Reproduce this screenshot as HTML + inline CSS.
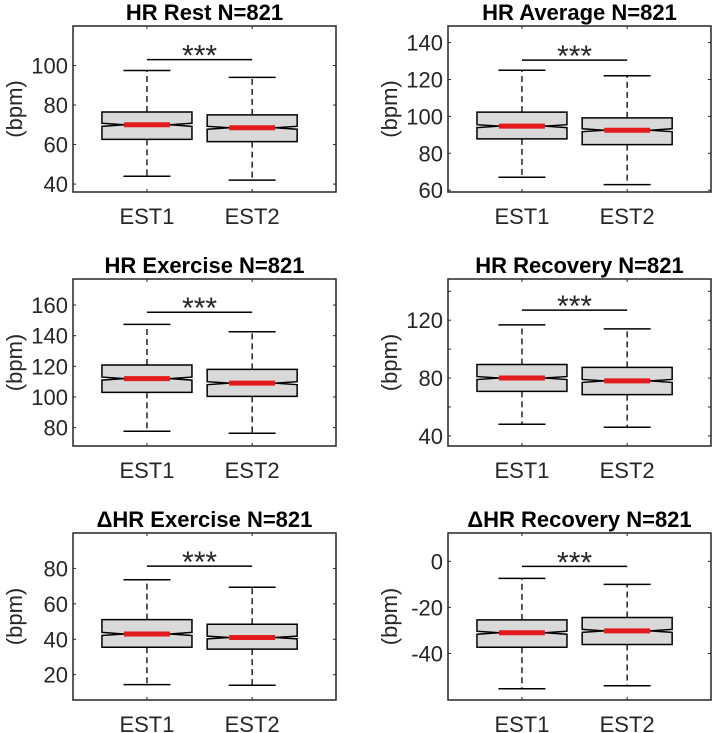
<!DOCTYPE html>
<html><head><meta charset="utf-8"><style>
html,body{margin:0;padding:0;background:#fff;}
svg{display:block;font-family:"Liberation Sans",Arial,sans-serif;}
</style></head><body>
<svg id="fig" width="715" height="733" viewBox="0 0 715 733" xmlns="http://www.w3.org/2000/svg"></svg>
<script>
const titles=["HR Rest N=821","HR Average N=821","HR Exercise N=821","HR Recovery N=821","\u0394HR Exercise N=821","\u0394HR Recovery N=821"];
const categories=["EST1","EST2"];
const yMin=[36,59,68,33,5.7,-60.2];
const yMax=[120,149,177,148.5,100,12.3];
const yTicks=[[40,60,80,100],[60,80,100,120,140],[80,100,120,140,160],[40,60,80,100,120,140],[20,40,60,80],[-40,-20,0]];
const yTickLabels=[["40","60","80","100"],["60","80","100","120","140"],["80","100","120","140","160"],["40","","80","","120",""],["20","40","60","80"],["-40","-20","0"]];
const whiskerLow=[[44,42],[67,63],[77.6,76.3],[48,46],[14.4,14],[-55.3,-54]];
const q1=[[62.6,61.5],[87.8,84.7],[103,100.4],[70.8,68.5],[35.5,34.4],[-37.3,-36.1]];
const medians=[[70,68.5],[94.7,92.5],[112,109],[80,78],[43,41],[-31,-30.2]];
const q3=[[76.5,75],[102.3,99.2],[120.9,118],[89.4,87.4],[51.1,48.5],[-25.4,-24.4]];
const whiskerHigh=[[97.5,94],[125,122],[147.4,142.6],[116.8,114],[73.6,69.4],[-7.4,-10]];
const sigLine=[103,130.5,155.3,127,81.3,-2.2];

const svg=document.getElementById('fig');
const NS="http://www.w3.org/2000/svg";
function mk(tag,attrs,parent){const e=document.createElementNS(NS,tag);for(const k in attrs)e.setAttribute(k,attrs[k]);(parent||svg).appendChild(e);return e;}
const colX=[73,448], rowY=[[26,192],[279,446],[533,700]];
const AW=263;
for(let p=0;p<6;p++){
  const col=p%2,row=Math.floor(p/2);
  const L=colX[col],R=L+AW,T=rowY[row][0],B=rowY[row][1];
  const g=mk('g',{});
  
  
  const y=v=>B-(v-yMin[p])/(yMax[p]-yMin[p])*(B-T);
  const x=i=>L+(i+0.703)*105.2;
  const t=mk('text',{x:(L+R)/2,y:T-6,'text-anchor':'middle','font-size':'22','font-weight':'bold',fill:'#000'},g);
  t.textContent=titles[p];
  
  
  const yl=mk('text',{x:0,y:0,'text-anchor':'middle','font-size':'22',fill:'#262626',transform:`translate(${L-51},${(T+B)/2}) rotate(-90)`},g);
  yl.textContent='(bpm)';
  
  
  yTicks[p].forEach((v,k)=>{
    const yy=y(v);
    mk('line',{x1:L,x2:L+3,y1:yy,y2:yy,stroke:'#262626','stroke-width':1},g);
    mk('line',{x1:R,x2:R-3,y1:yy,y2:yy,stroke:'#262626','stroke-width':1},g);
    if(yTickLabels[p][k]){
      const tl=mk('text',{x:L-5,y:yy+8,'text-anchor':'end','font-size':'22',fill:'#262626'},g);
      tl.textContent=yTickLabels[p][k];
      
      
    }
  });
  categories.forEach((c,i)=>{
    const cx=x(i);
    mk('line',{x1:cx,x2:cx,y1:B,y2:B-3,stroke:'#262626'},g);
    mk('line',{x1:cx,x2:cx,y1:T,y2:T+3,stroke:'#262626'},g);
    const xl=mk('text',{x:cx,y:B+32,'text-anchor':'middle','font-size':'22',fill:'#262626'},g);
    xl.textContent=c;
    
    
    const hw=45,cap=23.5,nw=22;
    const med=medians[p][i],iqr=q3[p][i]-q1[p][i];
    const nh=1.57*iqr/Math.sqrt(821);
    const bl=cx-hw,br=cx+hw;
    const wh=mk('line',{x1:cx,x2:cx,y1:y(q3[p][i]),y2:y(whiskerHigh[p][i]),stroke:'#000','stroke-width':1.3,'stroke-dasharray':'6,4'},g);
    
    
    const wl=mk('line',{x1:cx,x2:cx,y1:y(q1[p][i]),y2:y(whiskerLow[p][i]),stroke:'#000','stroke-width':1.3,'stroke-dasharray':'6,4'},g);
    
    
    mk('line',{x1:cx-cap,x2:cx+cap,y1:y(whiskerHigh[p][i]),y2:y(whiskerHigh[p][i]),stroke:'#000','stroke-width':1.5},g);
    mk('line',{x1:cx-cap,x2:cx+cap,y1:y(whiskerLow[p][i]),y2:y(whiskerLow[p][i]),stroke:'#000','stroke-width':1.5},g);
    const pts=[[bl,y(q1[p][i])],[bl,y(med-nh)],[bl+nw,y(med)],[bl,y(med+nh)],[bl,y(q3[p][i])],[br,y(q3[p][i])],[br,y(med+nh)],[br-nw,y(med)],[br,y(med-nh)],[br,y(q1[p][i])]];
    const box=mk('polygon',{points:pts.map(q=>q.join(',')).join(' '),fill:'#d9d9d9',stroke:'#000','stroke-width':1.5},g);
    
    
    const ml=mk('line',{x1:bl+nw,x2:br-nw,y1:y(med),y2:y(med),stroke:'#e31a1c','stroke-width':5},g);
    
    
  });
  const sy=y(sigLine[p]);
  const sl=mk('line',{x1:x(0),x2:x(1),y1:sy,y2:sy,stroke:'#000','stroke-width':1.5},g);
  
  
  const st=mk('text',{x:(x(0)+x(1))/2,y:sy+6,'text-anchor':'middle','font-size':'30',fill:'#262626'},g);
  st.textContent='***';
  
  
  const fr=mk('rect',{x:L,y:T,width:AW,height:B-T,fill:'none',stroke:'#262626','stroke-width':1.5},g);
  
  
}
</script>
</body></html>
